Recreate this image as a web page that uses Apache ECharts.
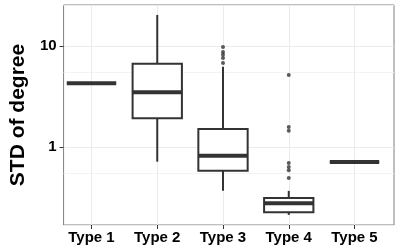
<!DOCTYPE html>
<html>
<head>
<meta charset="utf-8">
<script src="https://cdn.jsdelivr.net/npm/echarts@6/dist/echarts.min.js"></script>
<style>
html,body{margin:0;padding:0;background:#fff;}
#chart{width:400px;height:250px;}
</style>
</head>
<body>
<div id="chart"></div>
<script>
// ---- data ----
var categories = ['Type 1', 'Type 2', 'Type 3', 'Type 4', 'Type 5'];
var lowerWhisker = [4.3, 0.72, 0.372, 0.214, 0.715];
var q1Values     = [4.3, 1.94, 0.587, 0.227, 0.715];
var medianValues = [4.3, 3.5, 0.826, 0.279, 0.715];
var q3Values     = [4.3, 6.7, 1.52, 0.315, 0.715];
var upperWhisker = [4.3, 20.4, 6.28, 0.37, 0.715];
var type3Outliers = [9.84, 8.78, 8.26, 7.66, 6.84];
var type4Outliers = [5.2, 1.59, 1.46, 0.70, 0.638, 0.592, 0.497];
var yTickLabels = ['1', '10'];
var yName = 'STD of degree';

var yMin = 0.170, yMax = 25.6;

var boxData = categories.map(function (c, i) {
  return [i, lowerWhisker[i], q1Values[i], medianValues[i], q3Values[i], upperWhisker[i]];
});
var outlierData = [];
type3Outliers.forEach(function (v) { outlierData.push([2, v]); });
type4Outliers.forEach(function (v) { outlierData.push([3, v]); });

var FONT = '"Liberation Sans", Arial, sans-serif';
var INK = '#333333';

var chart = echarts.init(document.getElementById('chart'), null, {renderer: 'canvas'});
chart.setOption({
  animation: false,
  backgroundColor: '#ffffff',
  grid: [
    {left: 52, right: 6, top: 5, bottom: 25, show: true, borderColor: '#7f7f7f', borderWidth: 1, backgroundColor: 'transparent'},
    {left: 91.5, right: 45.5, top: 5, bottom: 25}
  ],
  xAxis: [
    {gridIndex: 0, type: 'value', min: 0, max: 1, show: false},
    {gridIndex: 1, type: 'category', data: categories, boundaryGap: false,
     axisLine: {show: false},
     axisTick: {show: true, length: 4, interval: 0, lineStyle: {color: INK, width: 1}},
     axisLabel: {interval: 0, margin: 5, color: '#000', fontSize: 15, fontWeight: 'bold', fontFamily: FONT},
     splitLine: {show: true, interval: 0, lineStyle: {color: '#ebebeb', width: 1}}}
  ],
  yAxis: [
    {gridIndex: 0, type: 'log', logBase: 10, min: yMin, max: yMax,
     name: yName, nameLocation: 'middle', nameGap: 22,
     nameTextStyle: {color: '#000', fontSize: 21, fontWeight: 'bold', fontFamily: FONT},
     axisLine: {show: false},
     axisTick: {show: true, length: 4, lineStyle: {color: INK, width: 1}},
     axisLabel: {margin: 7, color: '#000', fontSize: 15, fontWeight: 'bold', fontFamily: FONT,
       showMinLabel: false, showMaxLabel: false,
       formatter: function (v) {
         var s = String(Math.round(v * 1000) / 1000);
         return yTickLabels.indexOf(s) >= 0 ? s : '';
       }},
     splitLine: {show: true, lineStyle: {color: '#ebebeb', width: 1}},
     minorTick: {show: false, splitNumber: 2},
     minorSplitLine: {show: true, lineStyle: {color: '#f3f3f3', width: 1}}},
    {gridIndex: 1, type: 'log', logBase: 10, min: yMin, max: yMax, show: false}
  ],
  series: [
    {
      type: 'custom',
      xAxisIndex: 1, yAxisIndex: 1,
      clip: false,
      encode: {x: 0, y: [1, 2, 3, 4, 5]},
      data: boxData,
      renderItem: function (params, api) {
        var x = api.value(0);
        var pMin = api.coord([x, api.value(1)]);
        var pQ1 = api.coord([x, api.value(2)]);
        var pMed = api.coord([x, api.value(3)]);
        var pQ3 = api.coord([x, api.value(4)]);
        var pMax = api.coord([x, api.value(5)]);
        var half = api.size([1, 1])[0] * 0.75 / 2;
        var cx = pMed[0];
        return {
          type: 'group',
          children: [
            {type: 'line', shape: {x1: cx, y1: pQ3[1], x2: cx, y2: pMax[1]}, style: {stroke: INK, lineWidth: 2}},
            {type: 'line', shape: {x1: cx, y1: pQ1[1], x2: cx, y2: pMin[1]}, style: {stroke: INK, lineWidth: 2}},
            {type: 'rect', shape: {x: cx - half, y: pQ3[1], width: half * 2, height: pQ1[1] - pQ3[1]},
             style: {fill: '#ffffff', stroke: INK, lineWidth: 2}},
            {type: 'line', shape: {x1: cx - half, y1: pMed[1], x2: cx + half, y2: pMed[1]}, style: {stroke: INK, lineWidth: 4}}
          ]
        };
      },
      z: 3
    },
    {
      type: 'scatter',
      xAxisIndex: 1, yAxisIndex: 1,
      data: outlierData,
      symbol: 'circle',
      symbolSize: 4,
      itemStyle: {color: INK},
      z: 4
    }
  ]
});
</script>
</body>
</html>
